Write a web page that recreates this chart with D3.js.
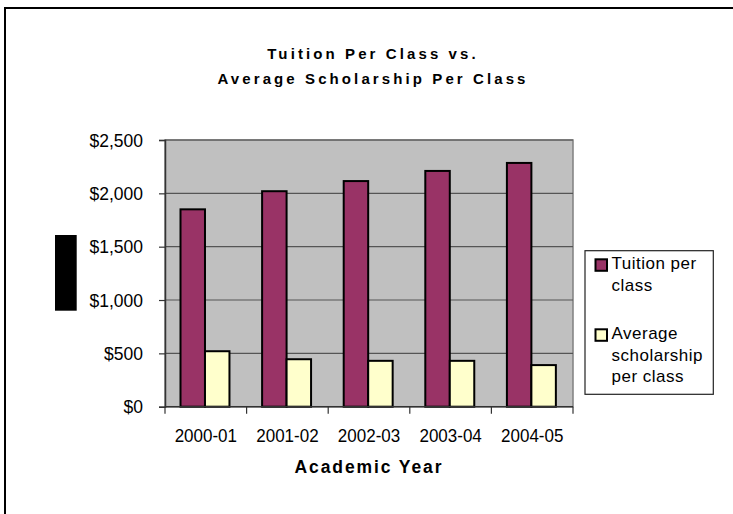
<!DOCTYPE html>
<html><head><meta charset="utf-8">
<script src="https://cdn.jsdelivr.net/npm/d3@7"></script>
<style>
html,body{margin:0;padding:0;background:#fff;}
svg{display:block;font-family:"Liberation Sans",Arial,sans-serif;}
</style></head>
<body>
<script>
const categories = ["2000-01","2001-02","2002-03","2003-04","2004-05"];
const seriesNames = ["Tuition per class","Average scholarship per class"];
const tuition = [1850, 2020, 2115, 2210, 2285];
const scholarship = [520, 445, 430, 430, 390];
const yTicks = [0, 500, 1000, 1500, 2000, 2500];
const titleLines = ["Tuition Per Class vs.", "Average Scholarship Per Class"];
const xTitle = "Academic Year";
const legendLines = [["Tuition per","class"],["Average","scholarship","per class"]];
const colors = ["#993366", "#FFFFCC"];

const W = 733, H = 514;
const svg = d3.select("body").append("svg").attr("width", W).attr("height", H);

// outer chart border (extends past right/bottom of view)
svg.append("rect").attr("x",5).attr("y",8).attr("width",760).attr("height",540)
  .attr("fill","#fff").attr("stroke","#000").attr("stroke-width",2);

const plot = {left:165, right:573, top:140, bottom:406.7};

const x = d3.scaleBand().domain(categories).range([plot.left, plot.right]).paddingInner(0).paddingOuter(0);
const bw = x.bandwidth();
const x1 = d3.scaleBand().domain([0,1]).range([bw*0.19, bw*0.79]).padding(0);
const y = d3.scaleLinear().domain([0, 2500]).range([plot.bottom, plot.top]);

// plot area background
svg.append("rect").attr("x",plot.left).attr("y",plot.top)
  .attr("width",plot.right-plot.left).attr("height",plot.bottom-plot.top)
  .attr("fill","#C0C0C0").attr("stroke","#808080").attr("stroke-width",1.5);

// gridlines
svg.append("g").selectAll("line").data(yTicks.filter(d=>d>0)).join("line")
  .attr("x1",plot.left).attr("x2",plot.right)
  .attr("y1",d=>y(d)).attr("y2",d=>y(d))
  .attr("stroke","#555").attr("stroke-width",1.2);

// bars
const data = categories.map((c,i)=>({c, vals:[tuition[i], scholarship[i]]}));
const groups = svg.append("g").selectAll("g").data(data).join("g")
  .attr("transform", d=>`translate(${x(d.c)},0)`);
groups.selectAll("rect").data(d=>d.vals.map((v,k)=>({v,k}))).join("rect")
  .attr("x", d=>x1(d.k)).attr("width", x1.bandwidth())
  .attr("y", d=>y(d.v)).attr("height", d=>y(0)-y(d.v))
  .attr("fill", d=>colors[d.k]).attr("stroke","#000").attr("stroke-width",2);

// y axis
const yAxis = svg.append("g").attr("transform",`translate(${plot.left},0)`)
  .call(d3.axisLeft(y).tickValues(yTicks).tickSize(6).tickPadding(16).tickFormat(d3.format("$,")));
yAxis.select(".domain").attr("stroke","#333").attr("stroke-width",1.5);
yAxis.selectAll(".tick line").attr("stroke","#333").attr("stroke-width",1.2);
yAxis.selectAll("text").attr("font-size",17.5).attr("fill","#000")
  .attr("font-family","'Liberation Sans',Arial,sans-serif")
  .attr("transform","scale(1,1.1)");

// x axis baseline and boundary ticks
svg.append("line").attr("x1",plot.left).attr("x2",plot.right)
  .attr("y1",plot.bottom).attr("y2",plot.bottom).attr("stroke","#333").attr("stroke-width",1.5);
const bounds = categories.map(c=>x(c)).concat([plot.right]);
svg.append("g").selectAll("line").data(bounds).join("line")
  .attr("x1",d=>d).attr("x2",d=>d).attr("y1",plot.bottom).attr("y2",plot.bottom+7)
  .attr("stroke","#333").attr("stroke-width",1.2);
svg.append("g").selectAll("text").data(categories).join("text")
  .attr("transform",d=>`translate(${x(d)+bw/2},441.7) scale(1,1.1)`).attr("text-anchor","middle")
  .attr("font-size",17).attr("fill","#000").text(d=>d);

// x axis title
svg.append("text").attr("transform",`translate(${(plot.left+plot.right)/2},473.3) scale(1,1.08)`)
  .attr("text-anchor","middle").attr("font-size",17.5).attr("font-weight","bold")
  .attr("letter-spacing",1.9).text(xTitle);

// chart title
svg.append("g").selectAll("text").data(titleLines).join("text")
  .attr("x",373).attr("y",(d,i)=>58.5+i*25.8).attr("text-anchor","middle")
  .attr("font-size",15).attr("font-weight","bold").attr("letter-spacing",3.1)
  .text(d=>d);

// black block at left
svg.append("rect").attr("x",55).attr("y",235).attr("width",21.7).attr("height",75.7).attr("fill","#000");

// legend
svg.append("rect").attr("x",585).attr("y",250.7).attr("width",128.3).attr("height",143.6)
  .attr("fill","#fff").attr("stroke","#222").attr("stroke-width",1.2);
const legendY = [269.3, 339.3];
const lg = svg.append("g").selectAll("g").data(seriesNames).join("g");
lg.append("rect").attr("x",595.5).attr("y",(d,i)=>legendY[i]-10).attr("width",11.5).attr("height",11.5)
  .attr("fill",(d,i)=>colors[i]).attr("stroke","#000").attr("stroke-width",2);
lg.each(function(d,i){
  d3.select(this).selectAll("text").data(legendLines[i]).join("text")
    .attr("x",611.5).attr("y",(t,j)=>legendY[i]+j*21.3)
    .attr("font-size",17).attr("letter-spacing",0.5).attr("fill","#000").text(t=>t);
});
</script>
</body></html>
